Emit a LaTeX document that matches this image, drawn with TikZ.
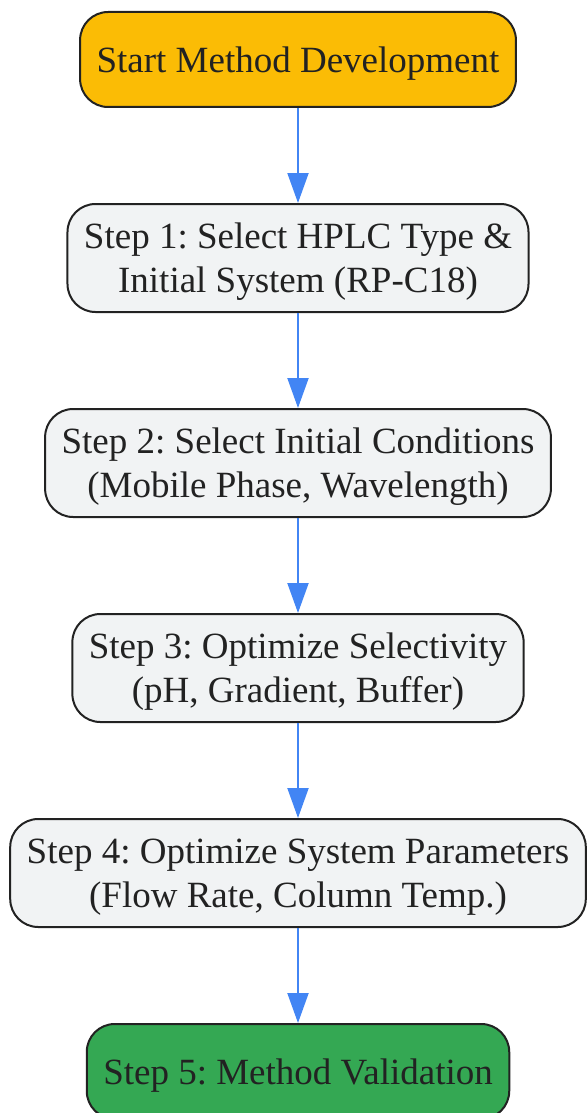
\documentclass[tikz,border=0pt]{standalone}
\usepackage{fontspec}
\setmainfont{Liberation Serif}
\frenchspacing
\usetikzlibrary{arrows.meta,positioning}
\definecolor{startcol}{HTML}{FBBC05}
\definecolor{stepcol}{HTML}{F1F3F4}
\definecolor{donecol}{HTML}{34A853}
\definecolor{linecol}{HTML}{4285F4}
\definecolor{inkcol}{HTML}{222222}
\tikzset{
    flow/.style={-{Triangle[length=30pt, width=21pt]}, line width=2pt, linecol},
    stepbox/.style={draw=inkcol, line width=2pt, fill=stepcol, rounded corners=28pt, align=center, minimum height=108pt, inner xsep=16.5pt, text depth=0pt, text=inkcol, font=\fontsize{37}{44}\selectfont},
    startbox/.style={stepbox, fill=startcol, minimum height=95pt},
    endbox/.style={stepbox, fill=donecol, minimum height=95pt}
}
\begin{document}
\begin{tikzpicture}[x=1pt, y=1pt, node distance=95pt]
            \useasboundingbox (0,0) rectangle (586,-1113);
            \node[startbox] (start) at (298,-59.5) {Start Method Development};
            \node[stepbox, below=of start] (s1) {Step 1: Select HPLC Type \&\\Initial System (RP-C18)};
            \node[stepbox, below=of s1] (s2) {Step 2: Select Initial Conditions\\(Mobile Phase, Wavelength)};
            \node[stepbox, below=of s2] (s3) {Step 3: Optimize Selectivity\\(pH, Gradient, Buffer)};
            \node[stepbox, below=of s3] (s4) {Step 4: Optimize System Parameters\\(Flow Rate, Column Temp.)};
            \node[endbox, below=of s4] (s5) {Step 5: Method Validation};
            
            \draw[flow] (start) -- (s1);
            \draw[flow] (s1) -- (s2);
            \draw[flow] (s2) -- (s3);
            \draw[flow] (s3) -- (s4);
            \draw[flow] (s4) -- (s5);
        \end{tikzpicture}
\end{document}
